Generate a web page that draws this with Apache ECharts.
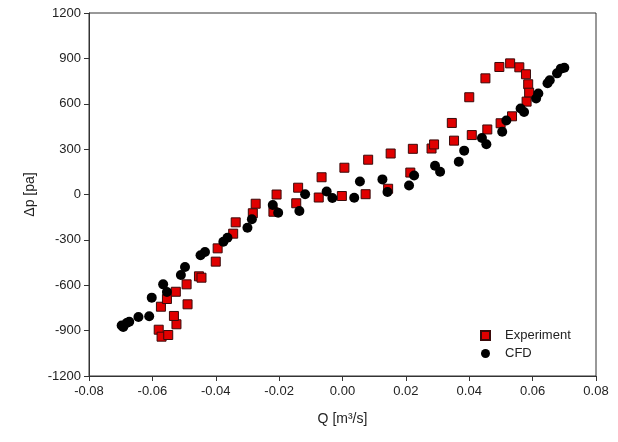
<!DOCTYPE html>
<html><head><meta charset="utf-8">
<script src="https://cdn.jsdelivr.net/npm/echarts@6/dist/echarts.min.js"></script>
<style>html,body{margin:0;padding:0;background:#fff}#c{width:618px;height:442px}</style>
</head><body><div id="c"></div>
<script>
const expQ = [-0.0580,-0.0571,-0.0550,-0.0524,-0.0532,-0.0573,-0.0489,-0.0554,-0.0526,-0.0492,-0.0453,-0.0445,-0.0400,-0.0394,-0.0345,-0.0337,-0.0283,-0.0274,-0.0218,-0.0208,-0.0146,-0.0140,-0.0075,-0.0066,-0.0002,0.0006,0.0073,0.0081,0.0144,0.0152,0.0214,0.0222,0.0281,0.0289,0.0345,0.0352,0.0400,0.0408,0.0451,0.0457,0.0495,0.0499,0.0529,0.0535,0.0558,0.0579,0.0586,0.0589,0.0581];
const expP = [-894,-940,-929,-858,-803,-742,-726,-691,-643,-594,-541,-550,-444,-356,-259,-184,-124,-61,-114,0,-58,45,-20,114,-10,177,2,230,38,271,145,302,304,331,473,356,643,393,768,430,843,471,867,517,841,795,729,673,614];
const cfdQ = [-0.0697,-0.0692,-0.0681,-0.0673,-0.0644,-0.0610,-0.0602,-0.0566,-0.0554,-0.0510,-0.0497,-0.0448,-0.0434,-0.0376,-0.0363,-0.0300,-0.0286,-0.0220,-0.0203,-0.0136,-0.0118,-0.0050,-0.0032,0.0037,0.0055,0.0126,0.0142,0.0210,0.0226,0.0292,0.0308,0.0367,0.0384,0.0440,0.0454,0.0504,0.0517,0.0562,0.0573,0.0611,0.0618,0.0647,0.0654,0.0677,0.0689,0.0700];
const cfdP = [-866,-876,-850,-841,-810,-805,-682,-594,-645,-532,-479,-402,-380,-312,-286,-220,-164,-70,-121,-109,2,20,-23,-21,86,100,16,59,126,190,151,217,290,373,332,415,489,569,545,635,668,735,755,801,832,838];
const seriesNames = ['Experiment','CFD'];
const xTitle = 'Q [m³/s]';
const yTitle = 'Δp [pa]';

const chart = echarts.init(document.getElementById('c'));
const font = 'Liberation Sans, Arial, sans-serif';
chart.setOption({
  animation:false,
  backgroundColor:'#fff',
  grid:{left:89,right:22,top:13,bottom:66,show:true,borderColor:'#333',borderWidth:1,backgroundColor:'transparent'},
  legend:{
    orient:'vertical', left:475, top:324, itemGap:5, itemWidth:9, itemHeight:9,
    textStyle:{fontFamily:font,fontSize:13,color:'#222',padding:[0,0,0,10]},
    data:[{name:seriesNames[0],icon:'rect'},{name:seriesNames[1],icon:'circle'}]
  },
  xAxis:{
    type:'value', min:-0.08, max:0.08, interval:0.02,
    name:xTitle, nameLocation:'middle', nameGap:36,
    nameTextStyle:{fontFamily:font,fontSize:14,color:'#222'},
    axisLine:{show:true,onZero:false,lineStyle:{color:'#333',width:1}},
    axisTick:{show:true,inside:false,length:5,lineStyle:{color:'#333'}},
    axisLabel:{fontFamily:font,fontSize:13,color:'#222',margin:9,formatter:v=>v.toFixed(2)},
    splitLine:{show:false}
  },
  yAxis:{
    type:'value', min:-1200, max:1200, interval:300,
    name:yTitle, nameLocation:'middle', nameGap:52, nameRotate:90,
    nameTextStyle:{fontFamily:font,fontSize:14,color:'#222'},
    axisLine:{show:true,onZero:false,lineStyle:{color:'#333',width:1}},
    axisTick:{show:true,inside:false,length:5,lineStyle:{color:'#333'}},
    axisLabel:{fontFamily:font,fontSize:13,color:'#222',margin:8,formatter:v=>String(v)},
    splitLine:{show:false}
  },
  series:[
    {name:seriesNames[0],type:'scatter',symbol:'rect',symbolSize:9,
     itemStyle:{color:'#e00000',borderColor:'#3a0a0a',borderWidth:1,opacity:1},
     data:expQ.map((q,i)=>[q,expP[i]])},
    {name:seriesNames[1],type:'scatter',symbol:'circle',symbolSize:10,
     itemStyle:{color:'#000',opacity:1},
     data:cfdQ.map((q,i)=>[q,cfdP[i]])}
  ]
});
</script></body></html>
